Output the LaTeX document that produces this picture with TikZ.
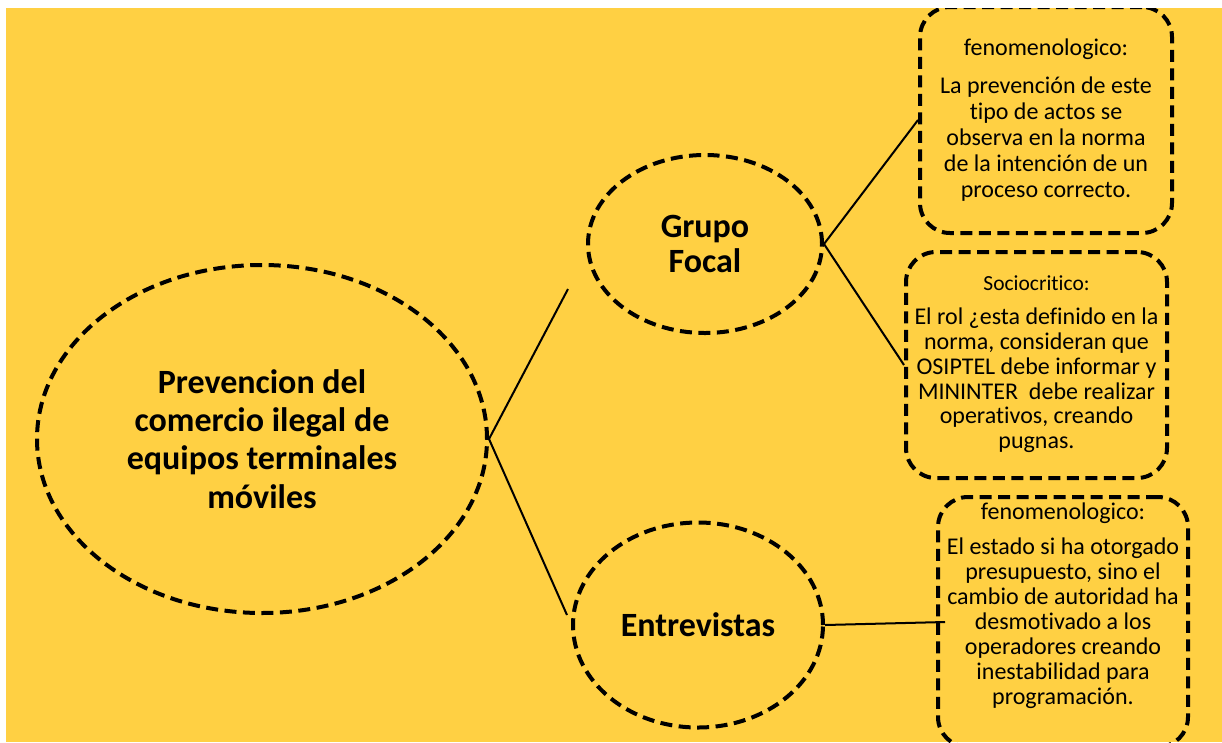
\documentclass[tikz,border=0pt]{standalone}
\usepackage{fontspec}
\setmainfont{Carlito}[Ligatures=NoCommon]
\usetikzlibrary{shapes.geometric}
\definecolor{bgyellow}{RGB}{255,208,67}
\tikzset{
  dashline/.style={draw=black, line width=4pt, dash pattern=on 12pt off 6.5pt},
  bigell/.style={ellipse, dashline, inner sep=0pt},
  dbox/.style={rectangle, dashline, rounded corners=30pt, inner sep=0pt},
  boxtext/.style={align=center, inner sep=0pt, text=black},
  conn/.style={draw=black, line width=2pt},
  boldtext/.style={font=\bfseries, align=center}
}
\begin{document}
\begin{tikzpicture}[x=1pt, y=-1pt]
\useasboundingbox (0,0) rectangle (1222,742);
\fill[white] (0,0) rectangle (1222,742);
\fill[bgyellow] (6,8) rectangle (1222,742);
\begin{scope}
\clip (6,8) rectangle (1222,742);
% ellipses
\node[bigell, minimum width=450pt, minimum height=348pt, boldtext,
      font=\fontsize{34}{38.3}\selectfont\bfseries] (main) at (262,439)
  {Prevencion del\\comercio ilegal de\\equipos terminales\\móviles};
\node[bigell, minimum width=234pt, minimum height=178pt, boldtext,
      font=\fontsize{34}{35}\selectfont\bfseries] (gf) at (705,244)
  {Grupo\\Focal};
\node[bigell, minimum width=250pt, minimum height=205pt, boldtext,
      font=\fontsize{34}{35}\selectfont\bfseries] (ent) at (698,625)
  {Entrevistas};
% boxes
\node[dbox, minimum width=252pt, minimum height=226pt] (b1) at (1046,120) {};
\node[dbox, minimum width=261pt, minimum height=226pt] (b2) at (1036.5,365) {};
\node[dbox, minimum width=250pt, minimum height=250pt] (b3) at (1063,622) {};
\node[boxtext, font=\fontsize{24}{26}\selectfont] (t1) at (1046,120)
  {fenomenologico:\\[12pt]La prevención de este\\tipo de actos se\\observa en la norma\\de la intención de un\\proceso correcto.};
\node[boxtext, font=\fontsize{24}{24.7}\selectfont] (t2) at (1036.5,364)
  {{\fontsize{21.5}{24.7}\selectfont Sociocritico:}\\[10pt]El rol ¿esta definido en la\\norma, consideran que\\OSIPTEL debe informar y\\MININTER\ \ debe realizar\\operativos, creando\\pugnas.};
\node[boxtext, font=\fontsize{24}{25}\selectfont] (t3) at (1063,606)
  {fenomenologico:\\[10pt]El estado si ha otorgado\\presupuesto, sino el\\cambio de autoridad ha\\desmotivado a los\\operadores creando\\inestabilidad para\\programación.};
% connectors
\coordinate (c1) at (568,289);
\coordinate (c2) at (567,615);
\coordinate (c3) at (945,622);
\draw[conn] (main.east) -- (c1);
\draw[conn] (main.east) -- (c2);
\draw[conn] (gf.east) -- (b1.west);
\draw[conn] (gf.east) -- (b2.west);
\draw[conn] (ent.east) -- (c3);
\end{scope}
\end{tikzpicture}
\end{document}
